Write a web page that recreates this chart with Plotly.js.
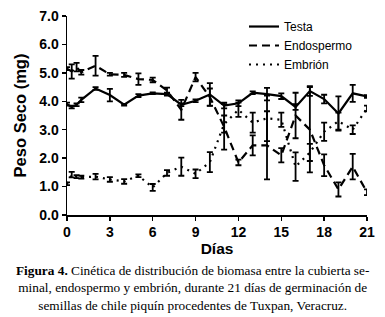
<!DOCTYPE html>
<html>
<head>
<meta charset="utf-8">
<script src="https://cdn.plot.ly/plotly-3.0.1.min.js"></script>
<style>
html,body{margin:0;padding:0;background:#fff;}
#chart{width:385px;height:317px;}
</style>
</head>
<body>
<div id="chart"></div>
<script>
// Days of germination
const dias = [0, 0.33, 0.67, 1, 2, 3, 4, 5, 6, 7, 8, 9, 10, 11, 12, 13, 14, 15, 16, 17, 18, 19, 20, 21];

// Testa (cubierta seminal), mg
const testa    = [3.9, 3.8, 3.88, 4.05, 4.45, 4.22, 3.88, 4.2, 4.28, 4.25, 3.88, 4.02, 4.24, 3.85, 3.93, 4.3, 4.25, 4.18, 3.8, 4.36, 4.08, 3.57, 4.28, 4.17];
const testaErr = [0.05, 0.05, 0.05, 0.08, 0.05, 0.22, 0.03, 0.05, 0.03, 0.05, 0.05, 0.05, 0.4, 0.1, 0.1, 0.05, 0.22, 0.1, 0.1, 0.17, 0.15, 0.6, 0.3, 0.05];

// Endospermo, mg
const endo    = [5.15, 5.05, 5.2, 5.02, 5.25, 4.95, 4.93, 4.78, 4.75, 4.38, 3.7, 4.85, 4.15, 3.1, 1.85, 2.45, 2.45, 2.1, 3.5, 3.0, 1.75, 0.9, 1.7, 0.8];
const endoErr = [0.05, 0.25, 0.15, 0.08, 0.35, 0.05, 0.07, 0.2, 0.08, 0.1, 0.35, 0.15, 0.3, 0.8, 0.1, 0.35, 1.2, 0.25, 0.8, 1.5, 0.38, 0.25, 0.45, 0.1];

// Embrión, mg
const embrion    = [1.1, 1.42, 1.35, 1.33, 1.35, 1.25, 1.18, 1.38, 0.97, 1.48, 1.7, 1.45, 1.86, 3.2, 3.7, 3.25, 3.4, 3.35, 1.7, 2.2, 2.93, 3.3, 3.0, 3.75];
const embrionErr = [0.05, 0.1, 0.05, 0.05, 0.1, 0.08, 0.08, 0.05, 0.12, 0.1, 0.32, 0.15, 0.35, 0.3, 0.25, 0.35, 0.8, 0.25, 0.5, 0.3, 0.32, 0.3, 0.15, 0.1];

const xTicks = [0, 3, 6, 9, 12, 15, 18, 21];
const yTicks = [0, 1, 2, 3, 4, 5, 6, 7];

const caption = '<b>Figura 4.</b> Cinética de distribución de biomasa entre la cubierta se-<br>minal, endospermo y embrión, durante 21 días de germinación de<br>semillas de chile piquín procedentes de Tuxpan, Veracruz.';

function errBar(arr) {
  return {type: 'data', array: arr, visible: true, color: '#000', thickness: 1.8, width: 3};
}

const traces = [
  {x: dias, y: testa, name: 'Testa', mode: 'lines',
   line: {color: '#000', width: 2.2, dash: 'solid'}, error_y: errBar(testaErr)},
  {x: dias, y: endo, name: 'Endospermo', mode: 'lines',
   line: {color: '#000', width: 2.2, dash: '8px,5px'}, error_y: errBar(endoErr)},
  {x: dias, y: embrion, name: 'Embrión', mode: 'lines',
   line: {color: '#000', width: 2.2, dash: '2px,5px'}, error_y: errBar(embrionErr)}
];

const sans = 'Liberation Sans, Arial, sans-serif';
const tickFont = {family: sans, size: 14, color: '#000', weight: 'bold'};

const layout = {
  width: 385, height: 317,
  margin: {l: 67, r: 18, t: 14, b: 102},
  paper_bgcolor: '#fff', plot_bgcolor: '#fff',
  showlegend: true,
  legend: {
    x: 0.59, y: 1.02, xanchor: 'left', yanchor: 'top',
    bgcolor: 'rgba(0,0,0,0)', borderwidth: 0,
    font: {family: sans, size: 12, color: '#000'},
    itemwidth: 30, tracegroupgap: 0
  },
  xaxis: {
    range: [0, 21], tickvals: xTicks, ticktext: xTicks.map(String),
    showline: true, linecolor: '#000', linewidth: 1.5,
    ticks: 'outside', ticklen: 4, tickwidth: 1.5, tickcolor: '#000',
    showgrid: false, zeroline: false, tickfont: tickFont,
    title: {text: 'Días', font: {family: sans, size: 15.5, color: '#000', weight: 'bold'}, standoff: 2}
  },
  yaxis: {
    range: [0, 7], tickvals: yTicks, ticktext: yTicks.map(v => v.toFixed(1)),
    showline: true, linecolor: '#000', linewidth: 1.5,
    ticks: 'outside', ticklen: 4, tickwidth: 1.5, tickcolor: '#000',
    showgrid: false, zeroline: false, tickfont: tickFont,
    title: {text: 'Peso Seco (mg)', font: {family: sans, size: 16.5, color: '#000', weight: 'bold'}, standoff: 8}
  },
  annotations: [{
    text: caption, showarrow: false,
    xref: 'paper', yref: 'paper', x: 0.418, y: -0.232,
    xanchor: 'center', yanchor: 'top', align: 'center',
    font: {family: 'Liberation Serif', size: 13.3, color: '#000'}
  }]
};

Plotly.newPlot('chart', traces, layout, {displayModeBar: false, staticPlot: true});
</script>
</body>
</html>
